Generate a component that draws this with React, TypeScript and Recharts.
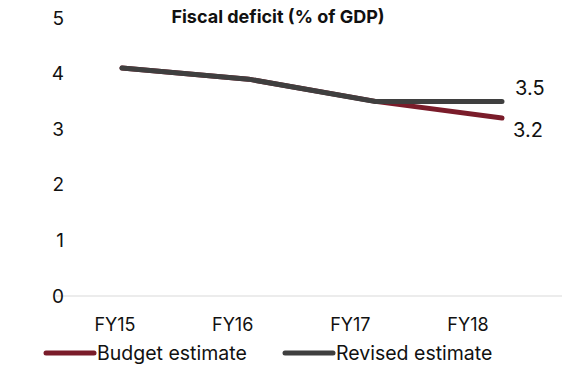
import React from "react";
import { LineChart, Line, XAxis, YAxis, Legend, LabelList } from "recharts";

const categories = ["FY15", "FY16", "FY17", "FY18"];
const budgetEstimate = [4.1, 3.9, 3.5, 3.2];
const revisedEstimate = [4.1, 3.9, 3.5, 3.5];
const yTicks = [0, 1, 2, 3, 4, 5];

const RED = "#7a1c2a";
const GRAY = "#3f3f3f";
const FONT = "Inter, 'Liberation Sans', Arial, sans-serif";

const data = categories.map((c, i) => ({
  name: c,
  budget: budgetEstimate[i],
  revised: revisedEstimate[i],
}));

const makeEndLabel = (dx: number, dy: number) => (props: any) => {
  const { x, y, value, index } = props;
  if (index !== categories.length - 1) return null;
  return (
    <text
      x={x + dx}
      y={y + dy}
      fill="#111"
      fontSize={20}
      fontFamily={FONT}
      textAnchor="start"
      dominantBaseline="central"
    >
      {Number(value).toFixed(1)}
    </text>
  );
};

const YTick = (props: any) => {
  const { x, y, payload } = props;
  return (
    <text x={x} y={y} fill="#111" fontSize={19} fontFamily={FONT} textAnchor="end" dominantBaseline="central">
      {payload.value}
    </text>
  );
};

const LegendContent = () => {
  const items = [
    { label: "Budget estimate", color: RED, width: 239 },
    { label: "Revised estimate", color: GRAY, width: 230 },
  ];
  return (
    <div style={{ display: "flex", alignItems: "center", fontFamily: FONT, fontSize: 19.5, color: "#111" }}>
      {items.map((it) => (
        <div key={it.label} style={{ display: "flex", alignItems: "center", width: it.width }}>
          <svg width={54} height={8} style={{ display: "block" }}>
            <line x1={3} y1={4} x2={51} y2={4} stroke={it.color} strokeWidth={5} strokeLinecap="round" />
          </svg>
          <span style={{ whiteSpace: "nowrap" }}>{it.label}</span>
        </div>
      ))}
    </div>
  );
};

export default function App() {
  return (
    <div style={{ position: "absolute", left: 0, top: 0, width: 562, height: 369, background: "#fff" }}>
      <div
        style={{
          position: "absolute",
          left: 0,
          width: 556,
          top: 6,
          textAlign: "center",
          fontFamily: FONT,
          fontWeight: 700,
          fontSize: 18,
          color: "#111",
          zIndex: 2,
        }}
      >
        Fiscal deficit (% of GDP)
      </div>
      <LineChart width={562} height={369} data={data} margin={{ top: 18, right: 0, bottom: 0, left: 0 }}>
        <XAxis
          xAxisId="lbl"
          dataKey="name"
          padding={{ left: 59, right: 94 }}
          tickLine={false}
          axisLine={{ stroke: "#d9d9d9", strokeWidth: 1 }}
          tick={{ fill: "#111", fontSize: 18, fontFamily: FONT }}
          tickMargin={16}
          height={49}
          interval={0}
        />
        <XAxis xAxisId="line" dataKey="name" padding={{ left: 66, right: 60 }} hide />
        <YAxis
          domain={[0, 5]}
          ticks={yTicks}
          axisLine={false}
          tickLine={false}
          width={56}
          tickMargin={-14}
          tick={<YTick />}
        />
        <Legend
          verticalAlign="bottom"
          content={<LegendContent />}
          wrapperStyle={{ left: 43, bottom: 4, width: 520 }}
        />
        <Line
          xAxisId="line"
          dataKey="budget"
          name="Budget estimate"
          stroke={RED}
          strokeWidth={5}
          strokeLinecap="round"
          dot={false}
          activeDot={false}
          isAnimationActive={false}
        >
          <LabelList dataKey="budget" content={makeEndLabel(11, 12)} />
        </Line>
        <Line
          xAxisId="line"
          dataKey="revised"
          name="Revised estimate"
          stroke={GRAY}
          strokeWidth={5}
          strokeLinecap="round"
          dot={false}
          activeDot={false}
          isAnimationActive={false}
        >
          <LabelList dataKey="revised" content={makeEndLabel(13, -13)} />
        </Line>
      </LineChart>
    </div>
  );
}
